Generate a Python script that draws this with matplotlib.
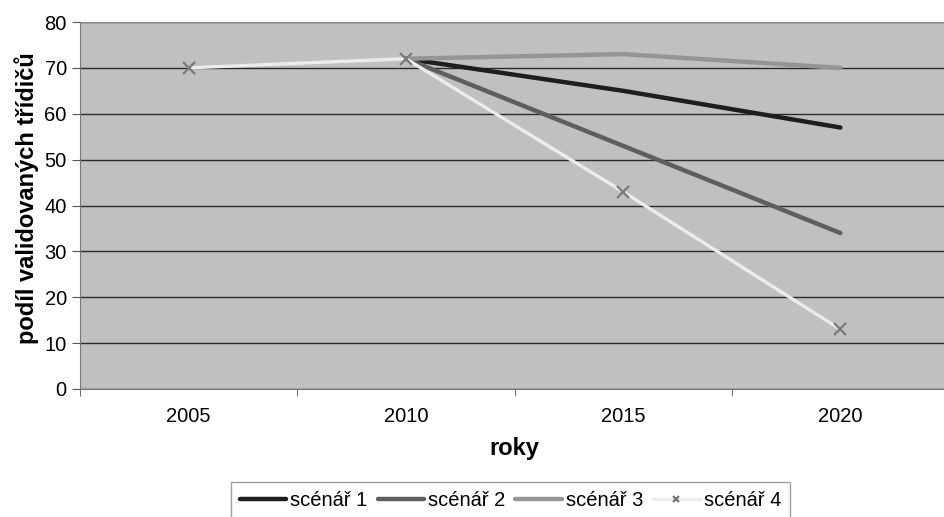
import matplotlib.pyplot as plt
import numpy as np

plt.rcParams['font.family'] = ['Liberation Sans', 'DejaVu Sans']

years = ["2005", "2010", "2015", "2020"]
s1 = [np.nan, 72, 65, 57]
s2 = [np.nan, 72, 53, 34]
s3 = [np.nan, 72, 73, 70]
s4 = [70, 72, 43, 13]

fig = plt.figure(figsize=(9.44, 5.17), dpi=100)
ax = fig.add_axes([80/944, 1-389/517, 869/944, 367/517])
ax.set_facecolor("#c0c0c0")

x = np.arange(len(years))
ax.plot(x, s1, color="#1e1e1e", lw=3.2, label="scénář 1", solid_capstyle="round")
ax.plot(x, s2, color="#5e5e5e", lw=3.2, label="scénář 2", solid_capstyle="round")
ax.plot(x, s3, color="#959595", lw=3.2, label="scénář 3", solid_capstyle="round")
ax.plot(x, s4, color="#ececec", lw=2.4, marker="x", ms=8, mew=1.6,
        mec="#7a7a7a", label="scénář 4")

ax.set_xlim(-0.5, 3.5)
ax.set_ylim(0, 80)
ax.set_yticks(range(0, 81, 10))
ax.yaxis.grid(True, color="#2a2a2a", lw=1)
ax.set_axisbelow(True)
ax.set_xticks(x)
ax.set_xticklabels(years)
ax.set_xticks(np.arange(-0.5, 4, 1), minor=True)
ax.tick_params(axis="x", which="major", length=0, pad=13, labelsize=14.5)
ax.tick_params(axis="x", which="minor", length=5, direction="out", color="#555555")
ax.tick_params(axis="y", length=6, labelsize=14.5, color="#555555")

for s in ["top", "right"]:
    ax.spines[s].set_visible(False)
ax.spines["left"].set_color("#777777")
ax.spines["bottom"].set_color("#777777")
ax.axhline(80, color="#999999", lw=1.2)

ax.set_xlabel("roky", fontsize=17, fontweight="bold", labelpad=8)
ax.set_ylabel("podíl validovaných třídičů", fontsize=17, fontweight="bold")
ax.yaxis.set_label_coords(-0.047, 0.5 + 7/367)

leg = fig.legend(loc="upper left", bbox_to_anchor=(231/944, 1-482/517), ncol=4,
                 fontsize=14.5, frameon=True, fancybox=False, handlelength=2.3,
                 handletextpad=0.2, columnspacing=0.5, borderpad=0.45,
                 borderaxespad=0, markerscale=0.6)
leg.get_frame().set_edgecolor("#888888")
leg.get_frame().set_linewidth(1)

fig.savefig("out.png", dpi=100)
